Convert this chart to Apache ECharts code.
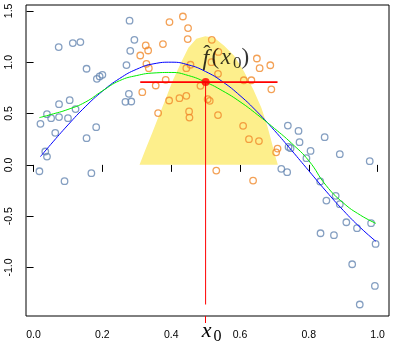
<!DOCTYPE html>
<html><head><meta charset="utf-8">
<script src="https://cdn.jsdelivr.net/npm/echarts@6/dist/echarts.min.js"></script>
<style>html,body{margin:0;padding:0;background:#fff}#c{width:396px;height:349px}</style>
</head><body><div id="c"></div>
<script>
// ---- data ----
const xTicks = [0, 0.2, 0.4, 0.6, 0.8, 1.0];
const yTicks = [-1.0, -0.5, 0.0, 0.5, 1.0, 1.5];
const x0 = 0.5;
const fhat = 0.806;
const windowLo = 0.310, windowHi = 0.709;
const vlineBottom = -1.36;

const outsideX = [0.073,0.114,0.136,0.154,0.184,0.192,0.200,0.074,0.105,0.122,0.039,0.051,0.074,0.100,0.020,0.063,0.182,0.154,0.034,0.039,0.017,0.090,0.168,0.279,0.293,0.281,0.270,0.277,0.267,0.284,0.720,0.737,0.739,0.770,0.773,0.846,0.805,0.890,0.977,0.741,0.747,0.793,0.833,0.851,0.878,0.890,0.909,0.940,0.981,0.834,0.873,0.994,0.926,0.992,0.948];
const outsideY = [1.147,1.186,1.196,0.936,0.838,0.861,0.877,0.591,0.630,0.543,0.494,0.455,0.465,0.455,0.400,0.312,0.367,0.260,0.130,0.081,-0.062,-0.159,-0.081,1.404,1.218,1.111,0.972,0.692,0.614,0.617,-0.039,-0.071,0.383,0.331,0.221,0.270,0.136,0.104,0.036,0.175,0.163,0.065,-0.162,-0.348,-0.302,-0.383,-0.559,-0.617,-0.568,-0.666,-0.685,-0.770,-0.968,-1.179,-1.360];

const insideX = [0.395,0.434,0.449,0.448,0.326,0.333,0.310,0.376,0.328,0.335,0.444,0.456,0.384,0.355,0.316,0.485,0.394,0.424,0.444,0.362,0.452,0.453,0.518,0.537,0.517,0.536,0.506,0.512,0.536,0.611,0.633,0.649,0.657,0.688,0.691,0.609,0.626,0.655,0.709,0.705,0.531,0.638];
const insideY = [1.391,1.445,1.332,1.225,1.163,1.114,1.065,1.176,0.984,0.942,0.942,0.975,0.828,0.773,0.708,0.770,0.627,0.650,0.672,0.504,0.520,0.461,1.218,1.100,1.000,0.887,0.640,0.624,0.485,0.824,0.824,1.036,0.942,0.970,0.736,0.380,0.250,0.232,0.159,0.122,-0.056,-0.153];

const trueX = [0.02,0.05,0.10,0.15,0.20,0.25,0.30,0.35,0.40,0.45,0.50,0.55,0.60,0.65,0.70,0.75,0.80,0.85,0.90,0.95,0.995];
const trueY = [0.080,0.199,0.389,0.565,0.717,0.841,0.932,0.985,1.000,0.974,0.909,0.808,0.675,0.516,0.335,0.141,-0.058,-0.256,-0.443,-0.612,-0.745];

const fitX = [0.017,0.05,0.10,0.15,0.20,0.25,0.30,0.35,0.40,0.45,0.50,0.55,0.60,0.65,0.70,0.75,0.80,0.85,0.90,0.95,0.995];
const fitY = [0.46,0.49,0.54,0.61,0.72,0.82,0.87,0.895,0.90,0.87,0.806,0.72,0.615,0.49,0.355,0.21,0.04,-0.20,-0.37,-0.49,-0.57];

const kernelX = [0.308,0.325,0.345,0.362,0.383,0.403,0.427,0.450,0.473,0.499,0.525,0.554,0.583,0.612,0.639,0.662,0.680,0.694,0.703,0.710];
const kernelY = [0,0.146,0.312,0.458,0.634,0.809,0.984,1.140,1.228,1.252,1.238,1.160,1.062,0.906,0.731,0.556,0.370,0.195,0.078,0];

const zip = (a, b) => a.map((v, i) => [v, b[i]]);

const chart = echarts.init(document.getElementById('c'), null, {renderer: 'canvas'});
const labelFont = {fontFamily: 'Liberation Sans, Arial, sans-serif', fontSize: 10.5, color: '#000'};
const serif = 'Liberation Serif, DejaVu Serif, serif';

chart.setOption({
  animation: false,
  grid: {left: 26, top: 5, width: 363, height: 311, show: true, borderColor: '#000', borderWidth: 1, backgroundColor: 'transparent'},
  xAxis: [{
    type: 'value', min: -0.022, max: 1.033,
    axisLine: {show: false}, splitLine: {show: false},
    axisTick: {show: true, length: 7, customValues: xTicks, lineStyle: {color: '#000', width: 1}},
    axisLabel: Object.assign({show: true, margin: 14, customValues: xTicks, formatter: v => v.toFixed(1)}, labelFont)
  }, {
    type: 'value', min: -0.022, max: 1.033, position: 'bottom',
    axisLine: {show: false}, splitLine: {show: false},
    axisTick: {show: true, length: 7, customValues: [x0], lineStyle: {color: '#ff0000', width: 1}},
    axisLabel: {show: true, margin: 4, customValues: [x0],
      formatter: () => '{x|x}{s|0}',
      rich: {
        x: {fontFamily: serif, fontStyle: 'italic', fontSize: 22, color: '#000', verticalAlign: 'top', lineHeight: 24, width: 12, align: 'center', padding: [0, 0, 0, 12]},
        s: {fontFamily: serif, fontSize: 16, color: '#000', verticalAlign: 'top', lineHeight: 14, width: 10, align: 'center', padding: [8.5, 0, 0, 0]}
      }
    }
  }],
  yAxis: {
    type: 'value', min: -1.472, max: 1.557,
    axisLine: {show: false}, splitLine: {show: false},
    axisTick: {show: true, length: 7, customValues: yTicks, lineStyle: {color: '#000', width: 1}},
    axisLabel: Object.assign({show: true, rotate: 90, margin: 11, customValues: yTicks, formatter: v => v.toFixed(1)}, labelFont)
  },
  series: [
    {type: 'line', data: zip(kernelX, kernelY), showSymbol: false, symbol: 'none', lineStyle: {width: 0, opacity: 0},
     areaStyle: {color: '#fdef8c', opacity: 1, origin: 'auto'}, z: 1, silent: true},
    {type: 'scatter', data: zip(outsideX, outsideY), symbol: 'circle', symbolSize: 6.5,
     itemStyle: {color: 'rgba(0,0,0,0)', borderColor: '#6687b2', borderWidth: 1.3}, z: 2},
    {type: 'scatter', data: zip(insideX, insideY), symbol: 'circle', symbolSize: 6.5,
     itemStyle: {color: 'rgba(0,0,0,0)', borderColor: '#f08a2c', borderWidth: 1.3}, z: 2},
    {type: 'line', data: zip(trueX, trueY), smooth: true, showSymbol: false, symbol: 'none',
     lineStyle: {color: '#0000ff', width: 1}, z: 3},
    {type: 'line', data: zip(fitX, fitY), smooth: true, showSymbol: false, symbol: 'none',
     lineStyle: {color: '#00ee00', width: 1}, z: 3},
    {type: 'line', data: [[windowLo, fhat], [windowHi, fhat]], showSymbol: false, symbol: 'none',
     lineStyle: {color: '#ff0000', width: 1.6}, z: 4},
    {type: 'line', data: [[x0, fhat], [x0, vlineBottom]], showSymbol: false, symbol: 'none',
     lineStyle: {color: '#ff0000', width: 1}, z: 4},
    {type: 'scatter', data: [[x0, fhat]], symbol: 'circle', symbolSize: 8,
     itemStyle: {color: '#ff0000'}, z: 5,
     label: {show: true, position: 'top', distance: 0, offset: [18.7, -5.7],
       formatter: () => '{h|\u02C6}{hs|}\n{f|f}{p|(}{x|x}{s|0}{q|)}',
       rich: {
         h: {fontFamily: serif, fontSize: 22, color: '#000', width: 15, align: 'center', lineHeight: 3, verticalAlign: 'top', padding: [0, 0, 0, 0]},
         hs: {width: 35, lineHeight: 3},
         f: {fontFamily: serif, fontStyle: 'italic', fontSize: 24, color: '#000', width: 13, align: 'center', lineHeight: 26, verticalAlign: 'top'},
         p: {fontFamily: serif, fontSize: 23, color: '#000', width: 6, align: 'center', lineHeight: 26, verticalAlign: 'top'},
         x: {fontFamily: serif, fontStyle: 'italic', fontSize: 23, color: '#000', width: 15, align: 'center', lineHeight: 26, verticalAlign: 'top'},
         s: {fontFamily: serif, fontSize: 17, color: '#000', width: 8, align: 'center', lineHeight: 14, verticalAlign: 'top', padding: [9, 0, 0, 0]},
         q: {fontFamily: serif, fontSize: 23, color: '#000', width: 8, align: 'center', lineHeight: 26, verticalAlign: 'top'}
       }
     }}
  ]
});
</script>
</body></html>
